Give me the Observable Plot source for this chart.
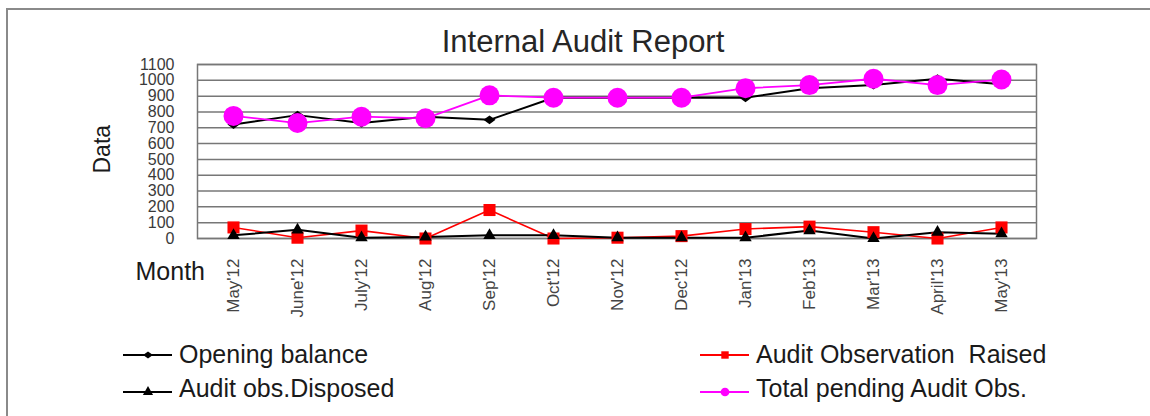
<!DOCTYPE html>
<html>
<head>
<meta charset="utf-8">
<script src="https://cdn.jsdelivr.net/npm/d3@7"></script>
<script src="https://cdn.jsdelivr.net/npm/@observablehq/plot@0.6"></script>
<style>
  html, body { margin: 0; padding: 0; background: #fff; }
  #wrap { position: relative; width: 1150px; height: 416px; overflow: hidden; background: #fff; font-family: "Liberation Sans", Arial, sans-serif; }
  #chart { position: absolute; left: 0; top: 0; }
  #border { position: absolute; left: 6px; top: 8px; width: 1160px; height: 430px; border-top: 2px solid #8a8a8a; border-left: 2px solid #8a8a8a; pointer-events: none; }
  #overlay { position: absolute; left: 0; top: 0; pointer-events: none; }
  #chart g[aria-label="y-axis tick label"] { font-size: 16px; }
  #chart g[aria-label="x-axis tick label"] { font-size: 17px; }
</style>
</head>
<body>
<div id="wrap">
  <div id="chart"></div>
  <svg id="overlay" width="1150" height="416"></svg>
  <div id="border"></div>
</div>
<script>
// ---- data ----
const months = ["May'12","June'12","July'12","Aug'12","Sep'12","Oct'12","Nov'12","Dec'12","Jan'13","Feb'13","Mar'13","April'13","May'13"];
const openingBalance = [720, 780, 730, 770, 750, 890, 890, 890, 890, 950, 970, 1010, 975];
const obsRaised      = [70, 5, 50, 0, 180, 0, 5, 15, 60, 75, 40, 0, 70];
const obsDisposed    = [20, 55, 5, 10, 20, 20, 5, 5, 5, 50, 0, 40, 30];
const totalPending   = [775, 730, 770, 760, 905, 890, 890, 890, 950, 970, 1010, 970, 1005];
const yTicks = [0, 100, 200, 300, 400, 500, 600, 700, 800, 900, 1000, 1100];
const seriesNames = ["Opening balance", "Audit Observation  Raised", "Audit obs.Disposed", "Total pending Audit Obs."];
const titleText = "Internal Audit Report";
const yLabel = "Data";
const xLabel = "Month";

// custom wide diamond symbol (drawn by Plot via d3 symbol protocol)
const wideDiamond = {
  draw(ctx, size) {
    const s = Math.sqrt(size / 2);
    ctx.moveTo(0, -s * 0.8);
    ctx.lineTo(s * 1.1, 0);
    ctx.lineTo(0, s * 0.8);
    ctx.lineTo(-s * 1.1, 0);
    ctx.closePath();
  }
};

const series = [
  {name: seriesNames[0], values: openingBalance, color: "#000000", symbol: wideDiamond, r: 4.4, sw: 2},
  {name: seriesNames[1], values: obsRaised, color: "#ff0000", symbol: "square", r: 6.8, sw: 1.6},
  {name: seriesNames[2], values: obsDisposed, color: "#000000", symbol: "triangle", r: 4.6, sw: 2},
  {name: seriesNames[3], values: totalPending, color: "#ff00ff", symbol: "circle", r: 10, sw: 1.8}
];

const marks = [
  Plot.gridY(yTicks, {stroke: "#777", strokeOpacity: 1, strokeWidth: 1.5}),
  Plot.frame({stroke: "#777", strokeWidth: 1.5}),
  Plot.axisY({ticks: yTicks, tickFormat: d => String(d), tickSize: 0, tickPadding: 23, label: null, color: "#3a3a3a"}),
  Plot.axisX({tickRotate: -90, tickSize: 0, tickPadding: 20, label: null, color: "#444"}),
  Plot.text([yLabel], {frameAnchor: "left", dx: -95, dy: 22, rotate: -90, fontSize: 23, fill: "#1a1a1a", text: d => d}),
  Plot.text([xLabel], {frameAnchor: "bottom-left", dx: -62, dy: 41, textAnchor: "start", fontSize: 25, fill: "#1a1a1a", text: d => d})
];
for (const s of series) {
  const rows = months.map((m, i) => ({month: m, value: s.values[i]}));
  marks.push(Plot.line(rows, {x: "month", y: "value", stroke: s.color, strokeWidth: s.sw}));
}
for (const s of series) {
  const rows = months.map((m, i) => ({month: m, value: s.values[i]}));
  marks.push(Plot.dot(rows, {x: "month", y: "value", symbol: s.symbol, r: s.r, fill: s.color, stroke: "none"}));
}

const chart = Plot.plot({
  width: 1150,
  height: 416,
  marginTop: 64,
  marginBottom: 178,
  marginLeft: 197,
  marginRight: 114,
  style: {background: "transparent", fontFamily: "'Liberation Sans', Arial, sans-serif", overflow: "visible"},
  x: {type: "point", domain: months, padding: 0.5, axis: null},
  y: {domain: [0, 1100], axis: null},
  marks
});
document.getElementById("chart").appendChild(chart);

// ---- title and legend (above/below the plot area) ----
const ov = d3.select("#overlay");
ov.append("text").attr("x", 583).attr("y", 52).attr("text-anchor", "middle")
  .attr("font-family", "'Liberation Sans', Arial, sans-serif").attr("font-size", 31).attr("fill", "#262626")
  .text(titleText);

const legendPos = [
  {x: 123, y: 355, ty: 363},
  {x: 700, y: 355, ty: 363},
  {x: 123, y: 392, ty: 397},
  {x: 700, y: 392, ty: 397}
];
series.forEach((s, i) => {
  const p = legendPos[i];
  const g = ov.append("g");
  g.append("line").attr("x1", p.x).attr("x2", p.x + 49).attr("y1", p.y).attr("y2", p.y)
    .attr("stroke", s.color).attr("stroke-width", 2);
  const cx = p.x + 25, cy = p.y;
  let sym;
  if (s.symbol === "circle") sym = d3.symbol(d3.symbolCircle, 60);
  else if (s.symbol === "square") sym = d3.symbol(d3.symbolSquare, 55);
  else if (s.symbol === "triangle") sym = d3.symbol(d3.symbolTriangle, 45);
  else sym = d3.symbol(wideDiamond, 40);
  g.append("path").attr("d", sym()).attr("transform", `translate(${cx},${cy})`).attr("fill", s.color);
  g.append("text").attr("x", p.x + 56).attr("y", p.ty)
    .attr("font-family", "'Liberation Sans', Arial, sans-serif").attr("font-size", 25).attr("fill", "#1a1a1a")
    .attr("xml:space", "preserve").style("white-space", "pre")
    .text(s.name);
});
</script>
</body>
</html>
